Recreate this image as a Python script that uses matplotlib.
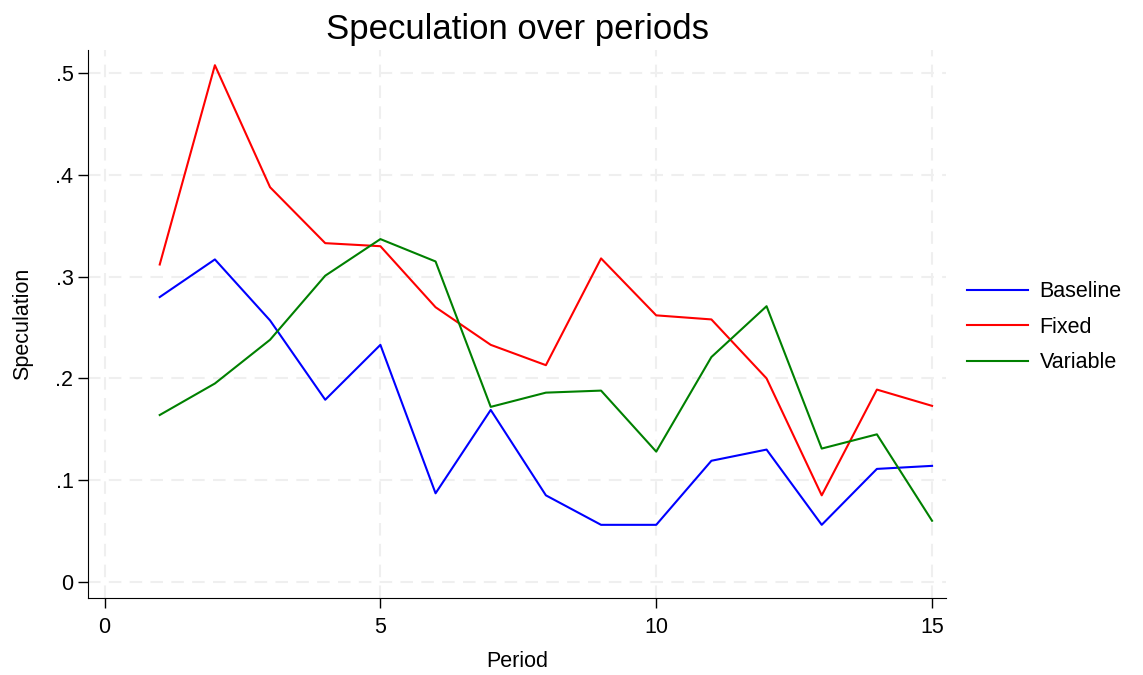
import numpy as np
import matplotlib.pyplot as plt

# data
periods = list(range(1, 16))
baseline = [0.280, 0.317, 0.257, 0.179, 0.233, 0.087, 0.169, 0.085,
            0.056, 0.056, 0.119, 0.130, 0.056, 0.111, 0.114]
fixed = [0.312, 0.508, 0.388, 0.333, 0.330, 0.270, 0.233, 0.213,
         0.318, 0.262, 0.258, 0.200, 0.085, 0.189, 0.173]
variable = [0.164, 0.195, 0.238, 0.301, 0.337, 0.315, 0.172, 0.186,
            0.188, 0.128, 0.221, 0.271, 0.131, 0.145, 0.060]

x_ticks = [0, 5, 10, 15]
y_ticks = [0, 0.1, 0.2, 0.3, 0.4, 0.5]
y_tick_labels = ["0", ".1", ".2", ".3", ".4", ".5"]

plt.rcParams['font.family'] = ['Liberation Sans', 'DejaVu Sans']

fig = plt.figure(figsize=(11.43, 6.75), dpi=100)
ax = fig.add_axes([0.077, 0.114, 0.751, 0.812])

ax.plot(periods, baseline, color="blue", lw=1.5, label="Baseline")
ax.plot(periods, fixed, color="red", lw=1.5, label="Fixed")
ax.plot(periods, variable, color="green", lw=1.5, label="Variable")

ax.set_xlim(-0.30, 15.26)
ax.set_ylim(-0.016, 0.523)
ax.set_xticks(x_ticks)
ax.set_yticks(y_ticks)
ax.set_yticklabels(y_tick_labels)
ax.tick_params(labelsize=15.5, length=7, width=1, color="black")
ax.tick_params(axis="x", pad=7)

ax.grid(True, color="#efefef", linestyle=(0, (6, 4)), lw=1.5)
ax.set_axisbelow(True)
for side in ["top", "right"]:
    ax.spines[side].set_visible(False)

ax.set_xlabel("Period", fontsize=15.5, labelpad=9)
ax.set_ylabel("Speculation", fontsize=15.5, labelpad=16)
ax.set_title("Speculation over periods", fontsize=25, pad=8)

ax.legend(loc="center left", bbox_to_anchor=(1.002, 0.494), frameon=False,
          fontsize=15.5, handlelength=2.8, handletextpad=0.55, labelspacing=0.68)

fig.savefig("out.png", dpi=100)
